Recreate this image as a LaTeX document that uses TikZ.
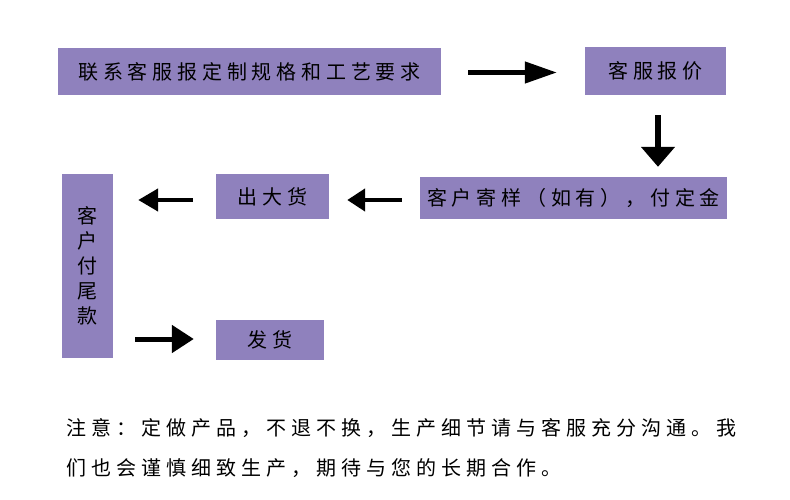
\documentclass[tikz,border=0pt]{standalone}
\usepackage{fontspec}
\usetikzlibrary{arrows.meta,calc}
\newfontfamily\cjk[LetterSpace=24]{Noto Sans CJK SC}
\newfontfamily\cjkwide[LetterSpace=25]{Noto Sans CJK SC}
\definecolor{boxpurple}{RGB}{143,129,189}
\tikzset{
  stepbox/.style={fill=boxpurple, draw=none, inner sep=0pt, font=\cjk\fontsize{20}{22}\selectfont, text=black},
  notetext/.style={anchor=west, inner sep=0pt, font=\cjkwide\fontsize{20}{22}\selectfont},
  bigarrow/.style={line width=#1, draw=black},
}
\begin{document}
\begin{tikzpicture}[x=1pt,y=-1pt]
\useasboundingbox (0,0) rectangle (790,500);
\node[stepbox, minimum width=383pt, minimum height=47pt] (b1) at (249.5,71.5) {联系客服报定制规格和工艺要求};
\node[stepbox, minimum width=141pt, minimum height=48pt] (b2) at (655.5,71) {客服报价};
\node[stepbox, minimum width=307pt, minimum height=42pt] (b3) at (573.5,198) {客户寄样（如有），付定金};
\node[stepbox, minimum width=113pt, minimum height=45pt] (b4) at (272.5,196.5) {出大货};
\node[stepbox, minimum width=51pt, minimum height=184pt, align=center] (b5) at (87.5,266) {客\\[3pt]户\\[3pt]付\\[3pt]尾\\[3pt]款};
\node[stepbox, minimum width=108pt, minimum height=40pt] (b6) at (270,340) {发货};
% arrows
\draw[bigarrow=4.5pt, -{Triangle[length=32pt,width=21pt]}] ($(b1.east)+(27,1)$) -- ($(b2.west)+(-28,1.5)$);
\draw[bigarrow=6pt, -{Triangle[length=20pt,width=33pt]}] ($(b2.south)+(2.5,20)$) -- ($(b3.north)+(84.5,-10)$);
\draw[bigarrow=4.5pt, -{Triangle[length=18pt,width=22pt]}] ($(b3.west)+(-18,2)$) -- ($(b4.east)+(18,3.5)$);
\draw[bigarrow=4.5pt, -{Triangle[length=20pt,width=22pt]}] ($(b4.west)+(-23,3.5)$) -- ($(b5.east |- b4.west)+(25,3.5)$);
\draw[bigarrow=5pt, -{Triangle[length=22pt,width=27pt]}] ($(b5.east |- b6.west)+(22,-1)$) -- ($(b6.west)+(-22,-1)$);
% note
\node[notetext] (n1) at (66,428) {注意：定做产品，不退不换，生产细节请与客服充分沟通。我};
\node[notetext] (n2) at (66,468) {们也会谨慎细致生产，期待与您的长期合作。};
\end{tikzpicture}
\end{document}
